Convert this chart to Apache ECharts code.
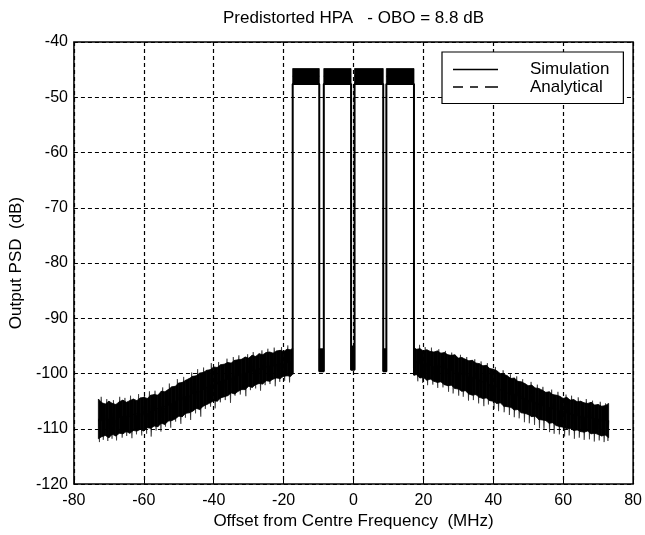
<!DOCTYPE html>
<html><head><meta charset="utf-8">
<script src="https://cdn.jsdelivr.net/npm/echarts@6/dist/echarts.min.js"></script>
<style>html,body{margin:0;padding:0;background:#fff}#c{width:645px;height:535px}</style>
</head><body><div id="c"></div>
<script>
const titleText = 'Predistorted HPA   - OBO = 8.8 dB';
const xName = 'Offset from Centre Frequency  (MHz)';
const yName = 'Output PSD  (dB)';
const legendNames = ['Simulation', 'Analytical'];
const xMin = -80, xMax = 80, xStep = 20;
const yMin = -120, yMax = -40, yStep = 10;

// Left skirt (spectral regrowth) envelope
const leftFreq = [-73,-72,-71,-70,-69,-68,-67,-66,-65,-64,-63,-62,-61,-60,-59,-58,-57,-56,-55,-54,-53,-52,-51,-50,-49,-48,-47,-46,-45,-44,-43,-42,-41,-40,-39,-38,-37,-36,-35,-34,-33,-32,-31,-30,-29,-28,-27,-26,-25,-24,-23,-22,-21,-20,-19,-18,-17.4];
const leftTop = [-104.6,-105.3,-105.5,-105.0,-105.4,-105.6,-105.1,-104.8,-105.2,-104.9,-104.6,-104.9,-104.4,-104.3,-104.5,-103.9,-103.8,-103.9,-103.2,-103.3,-102.9,-102.4,-102.3,-101.7,-101.6,-101.2,-100.9,-100.5,-100.4,-99.9,-99.8,-99.4,-99.3,-98.8,-98.9,-98.4,-98.3,-98.0,-98.1,-97.6,-97.5,-97.4,-97.0,-97.2,-96.7,-96.9,-96.4,-96.6,-96.2,-96.1,-96.3,-95.9,-95.8,-96.0,-95.6,-95.7,-95.4];
const leftBottom = [-111.8,-111.4,-111.2,-111.6,-111.0,-111.3,-110.8,-110.9,-110.5,-110.8,-110.3,-110.4,-110.1,-110.4,-109.8,-109.9,-109.5,-109.6,-109.0,-109.2,-108.6,-108.5,-108.2,-107.7,-107.8,-107.2,-107.1,-106.8,-106.3,-106.5,-105.9,-105.6,-105.3,-104.9,-105.0,-104.4,-104.2,-104.0,-103.5,-103.7,-103.2,-102.9,-102.9,-102.3,-102.5,-102.0,-101.8,-101.9,-101.3,-101.4,-101.0,-100.8,-100.9,-100.5,-100.4,-100.5,-100.1];
// noise spikes sticking out of the left band
const leftSpikeFreq = [-72.7,-71.6,-70.3,-69.1,-67.8,-66.2,-64.9,-63.4,-62.1,-60.6,-59.2,-57.9,-56.5,-55.1,-53.8,-52.3,-50.9,-49.4,-48.1,-46.6,-45.2,-43.7,-42.4,-40.9,-39.6,-38.1,-36.7,-35.2,-33.9,-32.4,-30.8,-29.5,-28.0,-26.6,-25.3,-23.9,-22.4,-21.1,-19.7,-18.3,
  -72.2,-70.6,-68.7,-66.9,-65.4,-63.8,-61.5,-59.8,-58.4,-56.8,-54.6,-52.7,-50.4,-48.6,-46.3,-44.6,-42.9,-40.7,-38.6,-36.2,-34.4,-32.8,-30.3,-28.7,-26.2,-24.5,-22.7,-20.6,-18.8];
const leftSpikeTip = [-112.4,-112.0,-112.2,-111.8,-112.1,-111.6,-111.3,-111.7,-111.0,-111.2,-110.9,-111.4,-110.3,-110.5,-109.6,-109.8,-108.7,-109.1,-108.0,-108.4,-107.2,-107.8,-106.4,-106.0,-106.3,-105.2,-104.8,-105.3,-104.0,-103.8,-104.1,-103.0,-102.7,-103.1,-102.1,-101.9,-102.3,-101.5,-101.3,-101.6,
  -104.2,-104.6,-104.8,-104.2,-104.4,-104.0,-103.7,-103.8,-103.2,-103.1,-102.5,-101.8,-101.0,-100.6,-99.8,-99.2,-98.9,-98.1,-97.9,-97.3,-97.0,-96.7,-96.5,-96.1,-95.8,-95.5,-95.3,-95.2,-94.9];

// Right skirt envelope
const rightFreq = [17.3,18,19,20,21,22,23,24,25,26,27,28,29,30,31,32,33,34,35,36,37,38,39,40,41,42,43,44,45,46,47,48,49,50,51,52,53,54,55,56,57,58,59,60,61,62,63,64,65,66,67,68,69,70,71,72,73];
const rightTop = [-95.3,-95.6,-95.5,-95.9,-95.7,-96.0,-96.1,-95.9,-96.3,-96.2,-96.6,-96.7,-96.6,-97.2,-97.1,-97.4,-97.7,-97.6,-98.1,-98.2,-98.6,-98.5,-99.1,-99.2,-99.5,-100.0,-100.1,-100.4,-100.9,-100.8,-101.4,-101.5,-101.8,-102.2,-102.1,-102.6,-102.7,-103.0,-103.4,-103.3,-103.8,-103.9,-104.1,-104.5,-104.3,-104.8,-104.7,-105.1,-105.0,-105.3,-105.4,-105.2,-105.7,-105.6,-105.9,-105.8,-105.4];
const rightBottom = [-100.3,-100.2,-100.8,-100.7,-101.2,-101.0,-101.4,-101.6,-101.5,-102.0,-102.2,-102.1,-102.7,-102.8,-103.2,-103.1,-103.7,-103.9,-103.8,-104.3,-104.5,-104.4,-104.9,-105.0,-105.4,-105.3,-105.9,-106.0,-106.1,-106.6,-106.5,-107.1,-107.2,-107.4,-107.8,-107.7,-108.3,-108.4,-108.5,-109.0,-108.9,-109.4,-109.6,-109.7,-110.0,-109.9,-110.3,-110.2,-110.5,-110.6,-110.4,-110.9,-110.8,-111.0,-111.3,-111.1,-111.6];
const rightSpikeFreq = [18.4,19.8,21.2,22.7,24.1,25.6,27.2,28.5,30.1,31.4,32.9,34.3,35.8,37.3,38.6,40.2,41.5,43.1,44.6,46.0,47.4,48.9,50.3,51.8,53.2,54.5,56.1,57.4,58.9,60.4,61.7,63.2,64.6,66.0,67.5,68.9,70.3,71.7,72.8,
  18.9,20.5,22.3,24.4,26.3,28.1,30.6,32.4,34.7,36.5,38.3,40.6,42.8,44.9,46.7,48.4,50.8,52.6,54.2,56.7,58.5,60.8,62.4,64.3,66.6,68.4,70.6,72.1];
const rightSpikeTip = [-101.4,-101.7,-102.1,-102.0,-102.6,-102.5,-103.3,-103.6,-104.0,-104.2,-104.9,-104.8,-105.4,-105.9,-105.6,-106.4,-106.8,-107.0,-107.5,-107.9,-108.1,-108.8,-109.0,-109.3,-109.9,-110.0,-110.6,-110.9,-111.0,-111.4,-111.2,-111.8,-111.6,-112.0,-111.9,-112.3,-112.1,-112.4,-112.2,
  -94.8,-95.2,-95.3,-95.6,-95.9,-96.2,-96.6,-97.0,-97.4,-97.8,-98.1,-98.8,-99.4,-100.1,-100.5,-101.0,-101.5,-102.0,-102.4,-102.9,-103.3,-103.8,-104.0,-104.3,-104.6,-104.9,-105.1,-105.4];

// Four carriers
const carrierEdges = [[-17.4,-9.8],[-8.5,-0.7],[0.3,8.5],[9.4,17.3]];
const carrierTop = -44.8, carrierBottom = -47.6;
// Notches between carriers
const notchEdges = [[-9.8,-8.5],[-0.7,0.3],[8.5,9.4]];
const notchTop = [-95.5,-95.0,-95.5];
const notchFloor = [-99.6,-99.3,-99.6];

// Analytical curve (mostly hidden under the simulation trace)
const anaLeftFreq = [-73,-65,-55,-45,-35,-25,-17.4];
const anaLeftPSD = [-108.5,-107.7,-106.2,-103.3,-100.7,-98.8,-97.8];
const anaRightFreq = [17.3,25,35,45,55,65,73];
const anaRightPSD = [-97.8,-98.8,-100.9,-103.8,-106.0,-107.8,-108.5];
const anaCarrierPSD = -46.2;

// ---- build library data from arrays ----
function quads(xs, lo, hi) {
  const out = [];
  for (let i = 0; i < xs.length - 1; i++) out.push([xs[i], lo[i], hi[i], xs[i+1], lo[i+1], hi[i+1]]);
  return out;
}
let bandData = [];
bandData = bandData.concat(quads(leftFreq, leftBottom, leftTop));
bandData = bandData.concat(quads(rightFreq, rightBottom, rightTop));
carrierEdges.forEach(e => bandData.push([e[0], carrierBottom, carrierTop, e[1], carrierBottom, carrierTop]));
notchEdges.forEach((e, i) => bandData.push([e[0], notchFloor[i], notchTop[i], e[1], notchFloor[i], notchTop[i]]));

function midAt(xs, lo, hi, f) {
  let best = 0;
  xs.forEach((x, i) => { if (Math.abs(x - f) < Math.abs(xs[best] - f)) best = i; });
  return (lo[best] + hi[best]) / 2;
}
const spikeData = [];
leftSpikeFreq.forEach((f, i) => spikeData.push([f, midAt(leftFreq, leftBottom, leftTop, f), leftSpikeTip[i]]));
rightSpikeFreq.forEach((f, i) => spikeData.push([f, midAt(rightFreq, rightBottom, rightTop, f), rightSpikeTip[i]]));

const outline = [];
outline.push([carrierEdges[0][0], leftBottom[leftBottom.length-1]]);
carrierEdges.forEach((e, i) => {
  outline.push([e[0], carrierBottom]);
  outline.push([e[1], carrierBottom]);
  if (i < notchFloor.length) outline.push([e[1], notchFloor[i]]);
  else outline.push([e[1], rightBottom[0]]);
  if (i < notchFloor.length) outline.push([carrierEdges[i+1][0], notchFloor[i]]);
});

const anaData = [];
anaLeftFreq.forEach((f, i) => anaData.push([f, anaLeftPSD[i]]));
anaData.push([carrierEdges[0][0], '-']);
carrierEdges.forEach(e => { anaData.push([e[0], anaCarrierPSD]); anaData.push([e[1], anaCarrierPSD]); anaData.push([e[1], '-']); });
anaRightFreq.forEach((f, i) => anaData.push([f, anaRightPSD[i]]));

const FONT = "'Liberation Sans', Arial, Helvetica, sans-serif";
const chart = echarts.init(document.getElementById('c'), null, {renderer: 'canvas'});
const gridL = 72, gridR = 10, gridT = 42, gridB = 50;
const plotCx = gridL + (645 - gridL - gridR) / 2;
chart.setOption({
  animation: false,
  backgroundColor: '#fff',
  graphic: [{
    type: 'text', x: plotCx, y: 18, z: 10,
    style: { text: titleText, font: '17px ' + FONT, fill: '#000', align: 'center', textAlign: 'center', verticalAlign: 'middle', textVerticalAlign: 'middle' }
  }],
  grid: { left: gridL, right: gridR, top: gridT, bottom: gridB, show: true, borderColor: '#000', borderWidth: 1.5, backgroundColor: 'transparent' },
  legend: {
    data: [
      { name: legendNames[0], icon: 'path://M0,0H45V1.6H0Z' },
      { name: legendNames[1], icon: 'path://M0,0H10V1.6H0Z M17,0H25V1.6H17Z M32,0H45V1.6H32Z' }
    ],
    orient: 'vertical', left: 442, top: 52,
    padding: [9, 14, 8, 11], itemGap: 0.5, itemWidth: 45, itemHeight: 14,
    backgroundColor: '#fff', borderColor: '#000', borderWidth: 1.2, borderRadius: 0,
    itemStyle: { color: '#000' },
    textStyle: { fontFamily: FONT, fontSize: 17, lineHeight: 16, color: '#000', padding: [0, 0, 0, 27] },
    selectedMode: false, z: 20
  },
  xAxis: {
    type: 'value', min: xMin, max: xMax, interval: xStep,
    name: xName, nameLocation: 'middle', nameGap: 23,
    nameTextStyle: { fontFamily: FONT, fontSize: 17, color: '#000' },
    axisLine: { show: false }, axisTick: { show: true, inside: true, length: 5, lineStyle: { color: '#000' } },
    axisLabel: { fontFamily: FONT, fontSize: 16, color: '#000', margin: 8 },
    splitLine: { show: true, lineStyle: { color: '#000', type: [4, 3], width: 1.2 } }
  },
  yAxis: {
    type: 'value', min: yMin, max: yMax, interval: yStep,
    name: yName, nameLocation: 'middle', nameGap: 47,
    nameTextStyle: { fontFamily: FONT, fontSize: 17, color: '#000' },
    axisLine: { show: false }, axisTick: { show: true, inside: true, length: 5, lineStyle: { color: '#000' } },
    axisLabel: { fontFamily: FONT, fontSize: 16, color: '#000', margin: 6 },
    splitLine: { show: true, lineStyle: { color: '#000', type: [4, 3], width: 1.2 } }
  },
  series: [
    {
      name: 'band', type: 'custom', z: 3,
      data: bandData,
      encode: { x: [0, 3], y: [1, 2, 4, 5] },
      renderItem: function (params, api) {
        const p = [
          api.coord([api.value(0), api.value(2)]),
          api.coord([api.value(3), api.value(5)]),
          api.coord([api.value(3), api.value(4)]),
          api.coord([api.value(0), api.value(1)])
        ];
        return { type: 'polygon', shape: { points: p }, style: { fill: '#000', stroke: '#000', lineWidth: 0.8 } };
      }
    },
    {
      name: 'spikes', type: 'custom', z: 3,
      data: spikeData,
      encode: { x: 0, y: [1, 2] },
      renderItem: function (params, api) {
        const f = api.value(0);
        const p = [
          api.coord([f - 0.25, api.value(1)]),
          api.coord([f + 0.25, api.value(1)]),
          api.coord([f, api.value(2)])
        ];
        return { type: 'polygon', shape: { points: p }, style: { fill: '#000', stroke: '#000', lineWidth: 0.5 } };
      }
    },
    {
      name: 'Simulation', type: 'line', z: 4, data: outline,
      symbol: 'none', showSymbol: false,
      lineStyle: { color: '#000', width: 2 }, itemStyle: { color: '#000' }
    },
    {
      name: 'Analytical', type: 'line', z: 5, data: anaData,
      symbol: 'none', showSymbol: false, connectNulls: false,
      lineStyle: { color: '#000', width: 1, type: [6, 5] }, itemStyle: { color: '#000' }
    }
  ]
});
</script></body></html>
